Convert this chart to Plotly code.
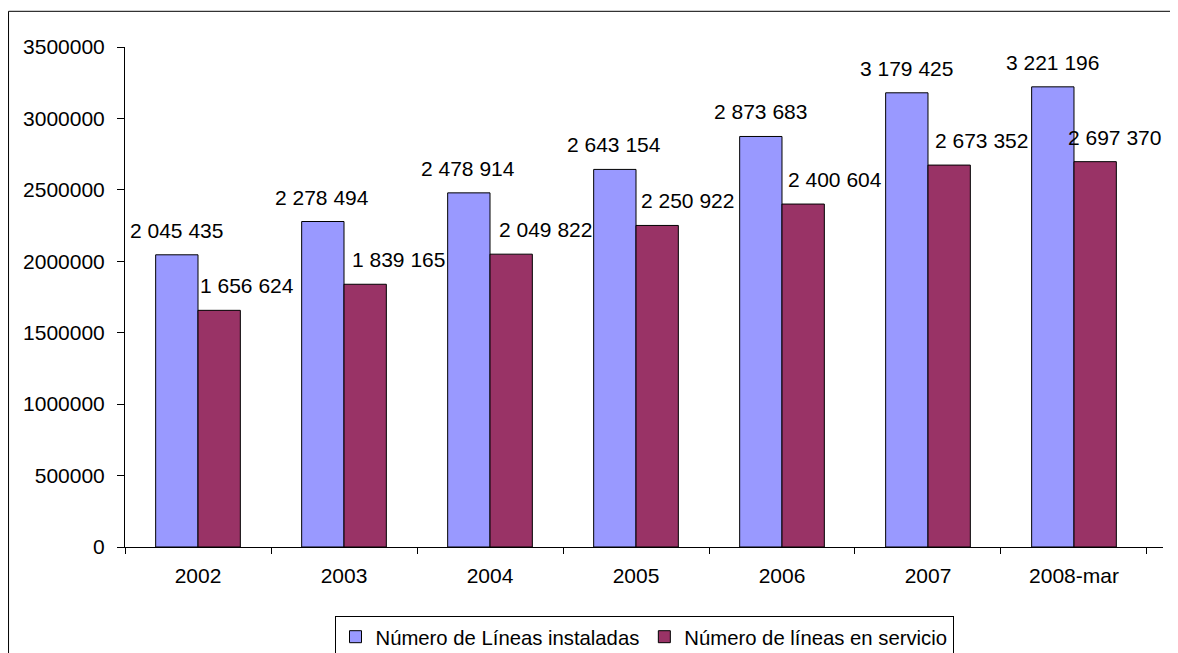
import plotly.graph_objects as go

categories = ["2002", "2003", "2004", "2005", "2006", "2007", "2008-mar"]
instaladas = [2045435, 2278494, 2478914, 2643154, 2873683, 3179425, 3221196]
servicio = [1656624, 1839165, 2049822, 2250922, 2400604, 2673352, 2697370]
name_inst = "Número de Líneas instaladas"
name_serv = "Número de líneas en servicio"
y_ticks = [0, 500000, 1000000, 1500000, 2000000, 2500000, 3000000, 3500000]

# label horizontal nudges (pixels) for the servicio labels, as placed in the original
serv_label_dx = [27, 33, 34, 30, 31.5, 32, 19]

FONT = "Liberation Sans, Arial, sans-serif"
FS = 21

# the page body adds an 8px margin, so the figure is 8px smaller than the window
W, H = 1170, 645
ML, MR, MT, MB = 117, 14.7, 38.7, 106.3
PW = W - ML - MR
PH = H - MT - MB

def fmt(v):
    return f"{v:,}".replace(",", " ")

fig = go.Figure()
fig.add_trace(go.Bar(x=categories, y=instaladas, name=name_inst,
                     marker=dict(color="#9999FF", line=dict(color="black", width=1))))
fig.add_trace(go.Bar(x=categories, y=servicio, name=name_serv,
                     marker=dict(color="#993366", line=dict(color="black", width=1))))

bargap = 0.42
bar_px = (1 - bargap) / 2 * PW / len(categories)

annotations = []
for i, c in enumerate(categories):
    # category axis: use the category index so year-like names are not read as numbers
    annotations.append(dict(x=i, y=instaladas[i], xref="x", yref="y", text=fmt(instaladas[i]),
                            showarrow=False, yanchor="bottom", xanchor="center",
                            xshift=-bar_px / 2, yshift=11,
                            font=dict(family=FONT, size=FS, color="black")))
    annotations.append(dict(x=i, y=servicio[i], xref="x", yref="y", text=fmt(servicio[i]),
                            showarrow=False, yanchor="bottom", xanchor="center",
                            xshift=bar_px / 2 + serv_label_dx[i], yshift=11,
                            font=dict(family=FONT, size=FS, color="black")))

def px_to_paper_x(px):
    return (px - ML) / PW

def px_to_paper_y(py):
    return (H - MB - py) / PH

fig.add_shape(type="rect", xref="paper", yref="paper",
              x0=px_to_paper_x(0.5), x1=px_to_paper_x(1169.2),
              y0=px_to_paper_y(3), y1=px_to_paper_y(700),
              line=dict(color="black", width=1), fillcolor="rgba(0,0,0,0)", layer="above")

fig.update_layout(
    width=W, height=H,
    margin=dict(l=ML, r=MR, t=MT, b=MB, pad=0, autoexpand=False),
    paper_bgcolor="white", plot_bgcolor="white",
    barmode="group", bargap=bargap, bargroupgap=0,
    font=dict(family=FONT, size=FS, color="black"),
    showlegend=True,
    legend=dict(orientation="h", x=0.5, xanchor="center",
                y=px_to_paper_y(607.7), yanchor="top",
                bordercolor="black", borderwidth=1, bgcolor="white",
                font=dict(family=FONT, size=20.3, color="black"),
                itemwidth=30, tracegroupgap=0),
    annotations=annotations,
    xaxis=dict(type="category", showline=True, linecolor="black", linewidth=1,
               ticks="outside", ticklen=6, tickcolor="black", tickson="boundaries",
               showgrid=False, zeroline=False, tickangle=0, ticklabelstandoff=10,
               tickfont=dict(family=FONT, size=FS, color="black")),
    yaxis=dict(range=[0, 3500000], tickvals=y_ticks, ticktext=[str(v) for v in y_ticks],
               showline=True, linecolor="black", linewidth=1,
               ticks="outside", ticklen=7, tickcolor="black",
               showgrid=False, zeroline=False, ticklabelstandoff=8,
               tickfont=dict(family=FONT, size=FS, color="black")),
)

fig.write_html("out.html")
